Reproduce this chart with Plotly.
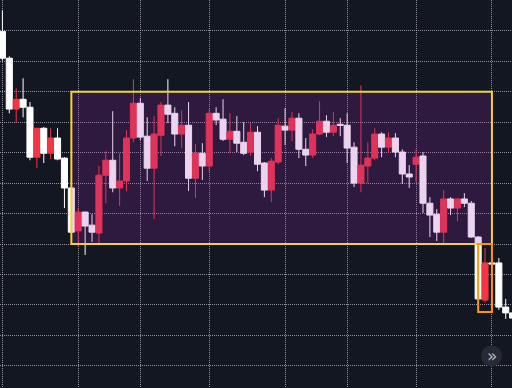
import plotly.graph_objects as go

idx = list(range(75))
open_ = [169.8, 161.0, 144.3, 147.5, 144.9, 128.5, 138.0, 129.8, 134.8, 128.2,
         118.4, 104.3, 110.5, 106.2, 103.6, 122.6, 127.5, 118.4, 120.7, 134.8,
         146.2, 135.4, 124.9, 135.7, 145.6, 142.9, 136.1, 139.0, 121.6, 129.8,
         125.6, 142.9, 141.0, 134.4, 137.0, 133.4, 130.2, 136.7, 126.6, 117.7,
         126.9, 138.7, 137.4, 141.3, 131.1, 129.2, 136.1, 140.3, 136.7, 139.3,
         139.0, 131.8, 120.0, 125.6, 128.2, 136.1, 131.8, 134.8, 130.2, 123.0,
         126.2, 128.9, 113.4, 109.8, 103.9, 114.8, 111.8, 114.8, 113.4, 102.3,
         81.6, 93.8, 93.8, 79.3, 77.4]
high = [176.7, 161.6, 151.1, 154.4, 146.6, 138.0, 138.4, 138.0, 138.0, 128.5,
        118.6, 111.8, 110.5, 109.8, 125.6, 130.5, 143.6, 129.8, 137.4, 154.1,
        147.9, 141.6, 142.0, 146.6, 154.1, 144.9, 143.9, 146.6, 132.8, 133.1,
        144.3, 144.9, 147.5, 142.9, 142.0, 140.0, 139.7, 138.7, 126.9, 128.2,
        141.3, 144.6, 143.3, 142.9, 134.8, 137.7, 146.9, 142.3, 143.3, 141.3,
        142.9, 133.4, 152.1, 133.4, 138.0, 136.7, 136.7, 136.4, 131.1, 125.9,
        131.1, 130.2, 115.4, 111.5, 117.7, 115.4, 115.1, 116.7, 114.1, 102.6,
        98.7, 94.0, 95.4, 82.0, 78.4]
low = [160.3, 142.9, 139.7, 141.6, 127.5, 124.9, 126.6, 127.9, 127.5, 111.8,
       103.7, 99.0, 96.4, 100.7, 99.7, 113.4, 117.0, 112.5, 117.4, 133.4,
       134.1, 120.7, 108.2, 128.9, 139.7, 132.1, 131.5, 117.4, 115.1, 121.0,
       123.6, 139.0, 133.8, 129.8, 130.2, 129.2, 128.9, 123.9, 115.4, 113.8,
       126.2, 132.5, 133.8, 128.2, 125.6, 128.2, 135.7, 135.1, 135.4, 135.4,
       126.6, 118.7, 117.0, 120.0, 127.5, 128.5, 129.8, 128.5, 119.7, 118.4,
       120.3, 110.2, 102.3, 101.0, 99.7, 109.5, 107.5, 112.1, 102.0, 81.6,
       80.7, 93.3, 78.4, 75.4, 75.1]
close = [161.0, 144.3, 147.5, 144.9, 128.5, 138.0, 129.8, 134.8, 127.9, 118.4,
         103.9, 110.5, 105.9, 103.9, 122.6, 127.5, 118.4, 120.7, 134.8, 146.2,
         135.1, 124.9, 136.1, 145.6, 142.6, 136.1, 139.0, 121.6, 129.8, 125.6,
         142.9, 140.7, 134.4, 137.0, 133.1, 129.8, 136.7, 126.2, 117.7, 127.2,
         139.0, 137.4, 141.3, 131.1, 129.2, 136.1, 140.3, 136.7, 139.0, 139.0,
         131.5, 120.0, 125.9, 128.2, 136.1, 131.8, 134.8, 130.2, 123.0, 122.0,
         128.5, 113.4, 109.5, 103.9, 114.8, 111.8, 114.8, 113.4, 102.3, 82.0,
         93.8, 93.5, 79.3, 77.4, 75.7]

grid_idx = [0, 11, 20, 30, 41, 50, 60, 71]
range_box = dict(x0=10, x1=71, y0=100, y1=150)
focus_box = dict(x0=69, x1=71, y0=100, y1=77.7)

BG = "#131722"
UP = "#f23645"
DOWN = "#ffffff"
GRID = "rgba(200,202,210,0.7)"

fig = go.Figure(go.Candlestick(
    x=idx, open=open_, high=high, low=low, close=close,
    increasing=dict(line=dict(color=UP, width=1), fillcolor=UP),
    decreasing=dict(line=dict(color=DOWN, width=1), fillcolor=DOWN),
    showlegend=False, hoverinfo="skip",
))

fig.add_shape(type="rect", xref="x", yref="y", layer="above",
              fillcolor="rgba(156,39,176,0.2)",
              line=dict(color="#f2d23c", width=2), **range_box)
fig.add_shape(type="rect", xref="x", yref="y", layer="above",
              fillcolor="rgba(0,0,0,0)",
              line=dict(color="#ff9800", width=2), **focus_box)
# scroll button
fig.add_shape(type="circle", xref="paper", yref="paper", layer="above",
              x0=481 / 512, x1=502 / 512, y0=1 - 366.5 / 388, y1=1 - 345.5 / 388,
              fillcolor="#262a35", line=dict(width=0))
fig.add_annotation(x=492 / 512, y=1 - 356 / 388, xref="paper", yref="paper",
                   xanchor="center", yanchor="middle",
                   text="»", showarrow=False,
                   font=dict(color="#b2b5be", size=17, family="DejaVu Sans"))

fig.update_layout(
    width=512, height=388,
    margin=dict(l=0, r=0, t=0, b=0),
    paper_bgcolor=BG, plot_bgcolor=BG,
    boxgap=0.12, boxgroupgap=0,
    xaxis=dict(range=[-0.348, 73.91], rangeslider=dict(visible=False),
               tickmode="array", tickvals=grid_idx, showticklabels=False,
               showgrid=True, gridcolor=GRID, griddash="1px,1px", gridwidth=1,
               zeroline=False, showline=False, ticks=""),
    yaxis=dict(range=[52.75, 180.1], tick0=0, dtick=10, showticklabels=False,
               showgrid=True, gridcolor=GRID, griddash="1px,1px", gridwidth=1,
               zeroline=False, showline=False, ticks=""),
)

fig.write_html("out.html", config={"displayModeBar": False},
               post_script="document.body.style.margin='0';document.body.style.background='#131722';")
